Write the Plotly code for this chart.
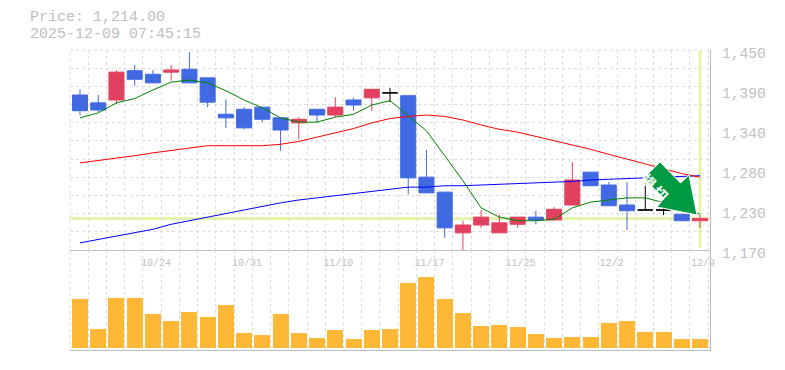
import plotly.graph_objects as go

date_labels = ["10/24", "10/31", "11/10", "11/17", "11/25", "12/2", "12/9"]
date_positions = [4, 9, 14, 19, 24, 29, 34]
price_ticks = [1170, 1226, 1282, 1338, 1394, 1450]
price_labels = ["1,170", "1,230", "1,280", "1,340", "1,390", "1,450"]

opens = [1387, 1376, 1380, 1421, 1416, 1419, 1423, 1411, 1360, 1367, 1370, 1355, 1348, 1367, 1359, 1380, 1383, 1390,
         1386, 1272, 1251, 1194, 1205, 1194, 1206, 1216, 1212, 1233, 1279, 1261, 1233, 1226, 1226, 1220, 1211]
highs = [1395, 1387, 1422, 1429, 1422, 1429, 1447, 1411, 1381, 1370, 1370, 1355, 1356, 1367, 1384, 1383, 1395, 1397,
         1386, 1310, 1251, 1211, 1226, 1220, 1216, 1225, 1230, 1293, 1279, 1265, 1265, 1264, 1235, 1220, 1219]
lows = [1359, 1363, 1374, 1400, 1404, 1407, 1404, 1370, 1341, 1339, 1349, 1309, 1325, 1349, 1356, 1365, 1365, 1377,
        1248, 1250, 1187, 1169, 1201, 1194, 1201, 1206, 1212, 1233, 1260, 1232, 1198, 1226, 1219, 1211, 1201]
closes = [1365, 1366, 1419, 1409, 1404, 1422, 1404, 1377, 1355, 1341, 1353, 1338, 1353, 1359, 1370, 1373, 1395, 1390,
          1271, 1250, 1201, 1205, 1216, 1208, 1216, 1212, 1227, 1268, 1260, 1232, 1225, 1226, 1226, 1211, 1214]
ma_short = [1355, 1362, 1376, 1382, 1394, 1405, 1408, 1404, 1393, 1380, 1369, 1355, 1349, 1349, 1356, 1360, 1373, 1379,
            1358, 1337, 1302, 1267, 1229, 1216, 1211, 1211, 1213, 1229, 1237, 1240, 1243, 1243, 1237, 1230, 1220]
ma_mid = [1292, 1295, 1299, 1302, 1306, 1309, 1313, 1316, 1316, 1316, 1316, 1318, 1322, 1328, 1334, 1340, 1348, 1354,
          1357, 1359, 1357, 1352, 1345, 1339, 1335, 1329, 1324, 1318, 1311, 1304, 1297, 1290, 1283, 1277, 1272]
ma_long = [1180, 1185, 1190, 1195, 1199, 1206, 1211, 1215, 1220, 1225, 1231, 1236, 1240, 1243, 1246, 1250, 1253, 1256,
           1258, 1258, 1260, 1260, 1261, 1262, 1263, 1264, 1264, 1266, 1268, 1269, 1270, 1270, 1272, 1273, 1274]
volumes = [49000, 19000, 50000, 50000, 34000, 27000, 36000, 31000, 43000, 15000, 13000, 34000, 15000, 10000, 18000,
           9000, 18000, 19000, 65000, 71000, 49000, 35000, 22000, 23000, 21000, 14000, 10000, 11000, 11000, 25000,
           27000, 16000, 16000, 9000, 9000]
last_price = 1214

GRID = "#dcdcdc"
AXIS = "#bdbdbd"
TEXT = "#c0c0c0"
MONO = "Liberation Mono"
PAGE = 8  # default body margin of the page
W, H = 785 - PAGE, 370 - PAGE
L, R, T, B = 70 - PAGE, 75, 50 - PAGE, 20
XRANGE = [-0.548, 34.55]
YRANGE = [1170, 1450]
n = len(closes)
idx = list(range(n))


def pick(seq, keep):
    return [seq[i] for i in keep]


def candle(keep, color):
    return go.Candlestick(
        x=keep, open=pick(opens, keep), high=pick(highs, keep), low=pick(lows, keep), close=pick(closes, keep),
        increasing=dict(line=dict(color=color, width=1), fillcolor=color),
        decreasing=dict(line=dict(color=color, width=1), fillcolor=color),
        whiskerwidth=0, showlegend=False, hoverinfo="skip", xaxis="x", yaxis="y",
    )


fig = go.Figure()
for vals, color in [(ma_long, "#0000ff"), (ma_mid, "#ff0000"), (ma_short, "#008000")]:
    fig.add_trace(go.Scatter(x=idx, y=vals, mode="lines", line=dict(color=color, width=1),
                             showlegend=False, hoverinfo="skip", xaxis="x", yaxis="y"))
fig.add_trace(candle([i for i in idx if closes[i] > opens[i]], "#e2405f"))
fig.add_trace(candle([i for i in idx if closes[i] < opens[i]], "#4169e1"))
fig.add_trace(candle([i for i in idx if closes[i] == opens[i]], "#000000"))
fig.add_trace(go.Bar(x=idx, y=volumes, marker=dict(color="#ffb835", line=dict(width=0)), width=0.877,
                     showlegend=False, hoverinfo="skip", xaxis="x2", yaxis="y2"))
# carriers for the overlaid label axes
fig.add_trace(go.Scatter(x=[0], y=[1170], mode="none", showlegend=False, hoverinfo="skip", xaxis="x3", yaxis="y3"))


def paper(px, py):
    return (px - PAGE - L) / (W - L - R), 1 - (py - PAGE - T) / (H - T - B)


arrow_px = [(660, 162), (643.5, 178.3), (664, 198.5), (657, 207), (697, 215), (689, 175), (680.5, 183)]
pts = [paper(*p) for p in arrow_px]
arrow_path = "M " + " L ".join(f"{a:.5f},{b:.5f}" for a, b in pts) + " Z"

left_x, _ = paper(70, 0)
_, top_y = paper(0, 50)
shapes = [
    dict(type="line", xref="paper", yref="paper", x0=left_x, x1=left_x, y0=0, y1=1,
         line=dict(color=GRID, width=1, dash="3px,3px"), layer="below"),
    dict(type="line", xref="paper", yref="paper", x0=0, x1=1, y0=top_y, y1=top_y,
         line=dict(color=GRID, width=1, dash="3px,3px"), layer="below"),
    dict(type="line", xref="x", yref="y", x0=XRANGE[0], x1=XRANGE[1], y0=last_price, y1=last_price,
         line=dict(color="#e4f4a8", width=3), layer="below"),
    dict(type="line", xref="x", yref="y", x0=n - 1, x1=n - 1, y0=1173, y1=1449,
         line=dict(color="#e4f4a8", width=3), layer="below"),
    dict(type="path", xref="paper", yref="paper", path=arrow_path, fillcolor="#009944",
         line=dict(color="#ffffff", width=1), layer="above"),
]

annotations = [
    dict(text="Price: 1,214.00", xref="paper", yref="paper", x=paper(29, 0)[0], y=paper(0, 18)[1], borderpad=0,
         xanchor="left", yanchor="middle", showarrow=False, font=dict(family=MONO, size=15, color=TEXT)),
    dict(text="2025-12-09 07:45:15", xref="paper", yref="paper", x=paper(29, 0)[0], y=paper(0, 35)[1], borderpad=0,
         xanchor="left", yanchor="middle", showarrow=False, font=dict(family=MONO, size=15, color=TEXT)),
    dict(text="<b>損</b>", xref="paper", yref="paper", x=paper(664, 0)[0], y=paper(0, 181)[1],
         showarrow=False, textangle=45, font=dict(family="Noto Sans CJK JP", size=14, color="#ffffff")),
    dict(text="<b>切</b>", xref="paper", yref="paper", x=paper(676, 0)[0], y=paper(0, 193)[1],
         showarrow=False, textangle=45, font=dict(family="Noto Sans CJK JP", size=14, color="#ffffff")),
]

grid_x = dict(showgrid=True, gridcolor=GRID, griddash="3px,3px", gridwidth=1, tick0=XRANGE[0], dtick=1.0,
              tickmode="linear", range=XRANGE, showticklabels=False, ticks="", zeroline=False,
              showline=True, linecolor=AXIS, linewidth=1, fixedrange=True, automargin=False)

fig.update_layout(
    width=W, height=H, autosize=False, margin=dict(l=L, r=R, t=T, b=B, pad=0, autoexpand=False),
    paper_bgcolor="#ffffff", plot_bgcolor="#ffffff", showlegend=False,
    boxgap=0.177, boxgroupgap=0, boxmode="overlay", bargap=0,
    shapes=shapes, annotations=annotations,
    xaxis=dict(**grid_x, anchor="y", rangeslider=dict(visible=False)),
    xaxis2=dict(**grid_x, anchor="y2", matches="x"),
    xaxis3=dict(overlaying="x", anchor="y", range=XRANGE, showgrid=False, zeroline=False, showline=False,
                tickmode="array", tickvals=date_positions, ticktext=date_labels, ticks="", side="bottom",
                ticklabelshift=3, ticklabelstandoff=5, automargin=False,
                tickfont=dict(family=MONO, size=10, color=TEXT), fixedrange=True),
    yaxis=dict(domain=[1 / 3, 1], range=YRANGE, tickmode="linear", tick0=YRANGE[0], dtick=(YRANGE[1] - YRANGE[0]) / 11,
               showgrid=True, gridcolor=GRID, griddash="3px,3px", showticklabels=False, ticks="", zeroline=False,
               side="right", showline=True, linecolor=AXIS, linewidth=1, fixedrange=True, anchor="x", automargin=False),
    yaxis2=dict(domain=[0, 1 / 3], range=[-2000, 98000], showgrid=False, showticklabels=False, ticks="",
                zeroline=False, side="right", showline=True, linecolor=AXIS, linewidth=1, fixedrange=True,
                anchor="x2", automargin=False),
    yaxis3=dict(overlaying="y", anchor="x", range=YRANGE, side="right", showgrid=False, zeroline=False,
                showline=False, tickmode="array", tickvals=price_ticks, ticktext=price_labels, ticks="",
                ticklabelstandoff=11, ticklabelshift=3, automargin=False,
                tickfont=dict(family=MONO, size=14.6, color=TEXT), fixedrange=True),
)

fig.write_html("out.html", config=dict(displayModeBar=False))
